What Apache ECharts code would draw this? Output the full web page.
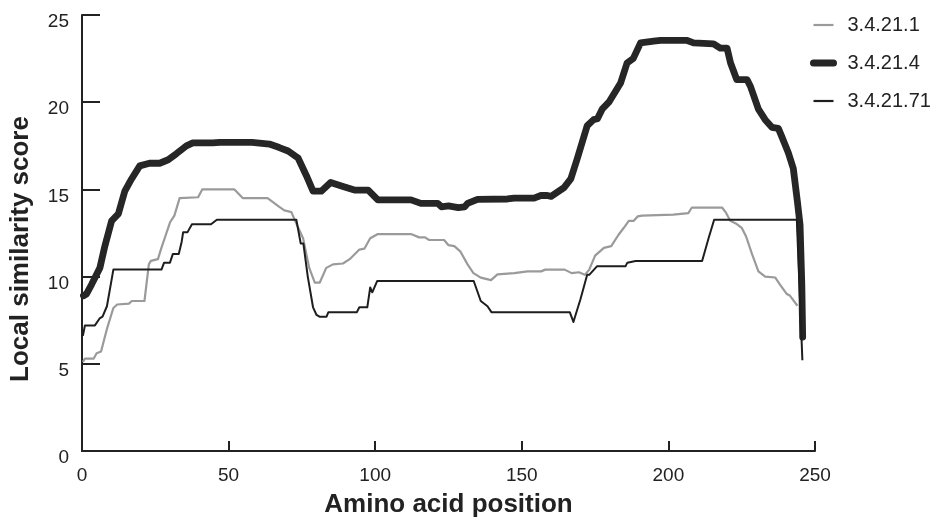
<!DOCTYPE html>
<html>
<head>
<meta charset="utf-8">
<script src="https://cdn.jsdelivr.net/npm/echarts@6/dist/echarts.min.js"></script>
<style>
  html, body { margin: 0; padding: 0; background: #fff; }
  #chart { width: 937px; height: 523px; }
</style>
</head>
<body>
<div id="chart"></div>
<script>
// series names
const seriesNames = ['3.4.21.1', '3.4.21.4', '3.4.21.71']

// 3.4.21.1 (grey)
const greyX = [0.3, 1, 4, 5, 6.5, 8.5, 10.7, 12, 16, 17, 21.3, 22.8, 23.5, 25.9, 27, 28.6, 30, 31.5, 33.3, 39.6, 41, 52, 54.8, 63.3, 67.3, 69, 71.4, 73.2, 75.4, 77.5, 79.4, 81.1, 83.3, 85.6, 89, 91.3, 94.6, 96.3, 98.3, 100.9, 112.2, 115, 117, 118.4, 123.5, 125, 127, 129, 131.5, 133.5, 136, 139.5, 141.7, 147.4, 152, 156.6, 158, 164.6, 167, 169.5, 171.5, 173, 175, 178, 180.5, 183, 184.8, 186.5, 188.2, 189.5, 191, 201.7, 202, 206.8, 208, 218.3, 219.5, 221.1, 223, 225, 226.5, 228.5, 230.7, 233, 236.4, 238, 240.4, 241.5, 244]
const greyY = [5.1, 5.3, 5.3, 5.6, 5.7, 7.0, 8.2, 8.4, 8.45, 8.6, 8.6, 10.7, 10.9, 11.0, 11.6, 12.4, 13.1, 13.5, 14.5, 14.55, 15.0, 15.0, 14.5, 14.5, 14.0, 13.8, 13.7, 13.0, 12.2, 10.5, 9.66, 9.66, 10.5, 10.7, 10.75, 11.0, 11.55, 11.6, 12.2, 12.44, 12.44, 12.25, 12.25, 12.1, 12.1, 11.8, 11.75, 11.45, 10.7, 10.2, 9.94, 9.8, 10.13, 10.2, 10.3, 10.3, 10.4, 10.4, 10.2, 10.25, 10.1, 10.4, 11.2, 11.65, 11.75, 12.4, 12.8, 13.2, 13.2, 13.45, 13.5, 13.55, 13.64, 13.64, 13.96, 13.96, 13.7, 13.2, 13.05, 12.8, 12.3, 11.3, 10.3, 10.0, 9.95, 9.56, 9.0, 8.9, 8.33]

// 3.4.21.4 (thick)
const thickX = [0.5, 1.5, 3.3, 6.1, 7.8, 10.1, 12.4, 14.6, 16.9, 19.7, 23, 26.5, 29.4, 32.2, 35.6, 37.8, 44.6, 47, 58, 63.9, 67.3, 70.3, 73.7, 76.5, 78.8, 81.6, 84.8, 89.3, 92.9, 97.6, 100.9, 112.2, 115.6, 121.3, 122.6, 125, 128.3, 130.5, 131.5, 134.9, 145.1, 147.4, 154.2, 156.5, 158.7, 160, 164.4, 166.7, 168.9, 172.3, 174.5, 175.8, 177.4, 179.7, 183.7, 185.9, 188, 190.5, 195, 197.3, 206.4, 208.6, 215.4, 217.7, 220, 221.2, 223.3, 226.8, 228, 230.7, 233, 235.3, 237.5, 238.5, 240.9, 242.6, 244, 244.9, 245.5, 245.8]
const thickY = [8.9, 9.0, 9.56, 10.5, 11.75, 13.2, 13.6, 14.9, 15.6, 16.35, 16.5, 16.5, 16.7, 17.05, 17.5, 17.67, 17.67, 17.7, 17.7, 17.6, 17.4, 17.2, 16.8, 15.8, 14.9, 14.9, 15.4, 15.15, 14.96, 14.96, 14.4, 14.4, 14.2, 14.2, 14.0, 14.05, 13.96, 14.0, 14.2, 14.43, 14.45, 14.5, 14.5, 14.65, 14.65, 14.6, 15.1, 15.6, 16.76, 18.65, 19.0, 19.05, 19.6, 20.0, 21.1, 22.25, 22.5, 23.4, 23.5, 23.54, 23.54, 23.4, 23.35, 23.1, 23.1, 22.25, 21.3, 21.3, 20.9, 19.6, 19.0, 18.56, 18.5, 18.1, 17.1, 16.2, 14.3, 12.97, 9.56, 6.53]

// 3.4.21.71 (thin black)
const thinX = [0.3, 1, 4.4, 6, 7, 8.5, 10.7, 27.1, 28, 30, 31, 33, 34, 34.5, 36, 37.5, 44, 46, 73.1, 74.6, 75.5, 77, 78.8, 80, 81, 83.4, 84, 93.7, 94.6, 97.3, 98.3, 99, 100.7, 133.6, 136, 138.3, 139.7, 166.4, 167.6, 170, 172.3, 173, 175.7, 185.4, 186, 188.8, 211.5, 213.7, 214.3, 215.6, 243.8, 245.7]
const thinY = [6.6, 7.2, 7.2, 7.6, 7.7, 8.3, 10.4, 10.4, 10.8, 10.8, 11.3, 11.3, 12.0, 12.55, 12.55, 13.0, 13.0, 13.26, 13.26, 11.9, 11.9, 10.0, 8.24, 7.8, 7.7, 7.7, 7.95, 7.95, 8.24, 8.24, 9.38, 9.1, 9.75, 9.75, 8.6, 8.3, 7.95, 7.95, 7.4, 8.7, 10.1, 10.1, 10.6, 10.6, 10.8, 10.9, 10.9, 12.2, 12.3, 13.26, 13.26, 5.2]

const xTicks = [0, 250, 50]
const yTicks = [0, 25, 5]

const pairs = (xs, ys) => xs.map((x, i) => [x, ys[i]])

const chart = echarts.init(document.getElementById('chart'))
const ink = '#222'
const font = 'Liberation Sans, Arial, Helvetica, sans-serif'

const option = {
  animation: false,
  grid: { left: 80, top: 15, width: 735, height: 440, containLabel: false },
  legend: {
    orient: 'vertical',
    left: 805,
    top: 10,
    itemWidth: 20,
    itemHeight: 20,
    itemGap: 18,
    itemStyle: { opacity: 0 },
    textStyle: { color: ink, fontSize: 20, fontFamily: font, lineHeight: 20, padding: [0, 0, 0, 9] },
    data: [
      { name: seriesNames[0], lineStyle: { width: 2.2 } },
      { name: seriesNames[1], lineStyle: { width: 7, cap: 'round' } },
      { name: seriesNames[2], lineStyle: { width: 2.2 } }
    ]
  },
  xAxis: {
    type: 'value',
    min: xTicks[0],
    max: xTicks[1],
    interval: xTicks[2],
    name: 'Amino acid position',
    nameLocation: 'middle',
    nameGap: 41,
    nameTextStyle: { color: ink, fontSize: 26, fontWeight: 'bold', fontFamily: font },
    axisLine: { lineStyle: { color: ink, width: 2 } },
    axisTick: { inside: true, length: 10, lineStyle: { color: ink, width: 2 } },
    axisLabel: { color: ink, fontSize: 19, fontFamily: font, margin: 15 },
    splitLine: { show: false }
  },
  yAxis: {
    type: 'value',
    min: yTicks[0],
    max: yTicks[1],
    interval: yTicks[2],
    name: 'Local similarity score',
    nameLocation: 'middle',
    nameGap: 48,
    nameTextStyle: { color: ink, fontSize: 26, fontWeight: 'bold', fontFamily: font, padding: [0, 32, 0, 0] },
    axisLine: { show: true, lineStyle: { color: ink, width: 2 } },
    axisTick: { show: true, inside: true, length: 18, lineStyle: { color: ink, width: 2 } },
    axisLabel: { color: ink, fontSize: 19, fontFamily: font, margin: 13, verticalAlign: 'top', lineHeight: 14 },
    splitLine: { show: false }
  },
  series: [
    {
      name: seriesNames[0],
      type: 'line',
      symbol: 'none',
      data: pairs(greyX, greyY),
      lineStyle: { color: '#9a9a9a', width: 2.2, join: 'round' },
      itemStyle: { color: '#9a9a9a' }
    },
    {
      name: seriesNames[1],
      type: 'line',
      symbol: 'none',
      data: pairs(thickX, thickY),
      lineStyle: { color: '#262626', width: 6.8, join: 'round', cap: 'round' },
      itemStyle: { color: '#262626' }
    },
    {
      name: seriesNames[2],
      type: 'line',
      symbol: 'none',
      data: pairs(thinX, thinY),
      lineStyle: { color: '#1e1e1e', width: 2, join: 'round' },
      itemStyle: { color: '#1e1e1e' }
    }
  ]
}
option && chart.setOption(option)
</script>
</body>
</html>
